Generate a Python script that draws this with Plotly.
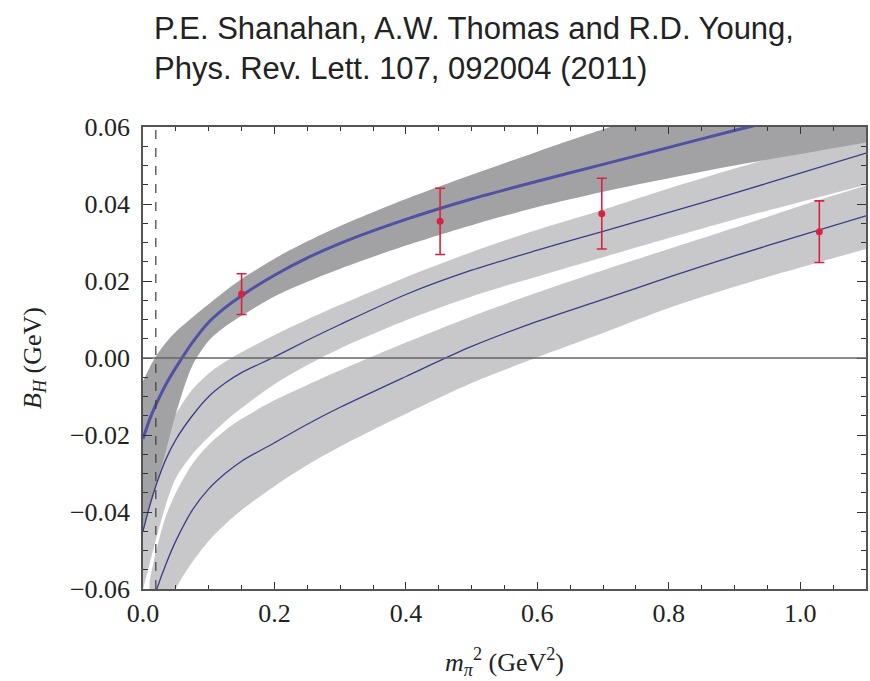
import plotly.graph_objects as go

# ---- data ----
x_grid = [0.0, 0.01, 0.02, 0.035, 0.05, 0.075, 0.10, 0.125, 0.15, 0.20, 0.25, 0.30,
          0.40, 0.50, 0.60, 0.70, 0.80, 0.90, 1.00, 1.10]

# top (dark) band
top_center = [-0.0210, -0.0160, -0.0120, -0.0068, -0.0025, 0.0040, 0.0093, 0.0131, 0.0162, 0.0215,
              0.0260, 0.0298, 0.0360, 0.0413, 0.0459, 0.0503, 0.0547, 0.0591, 0.0633, 0.0675]
top_upper  = [-0.0060, -0.0025, 0.0005, 0.0040, 0.0068, 0.0105, 0.0140, 0.0174, 0.0205, 0.0258,
              0.0303, 0.0343, 0.0413, 0.0476, 0.0536, 0.0594, 0.0648, 0.0700, 0.0750, 0.0800]
top_lower  = [-0.0450, -0.0390, -0.0330, -0.0240, -0.0145, -0.0020, 0.0045, 0.0082, 0.0110, 0.0160,
              0.0198, 0.0232, 0.0292, 0.0345, 0.0392, 0.0432, 0.0467, 0.0500, 0.0530, 0.0560]

# middle band
mid_center = [-0.0450, -0.0385, -0.0330, -0.0262, -0.0212, -0.0150, -0.0100, -0.0065, -0.0038, 0.0003,
              0.0046, 0.0087, 0.0165, 0.0228, 0.0280, 0.0329, 0.0378, 0.0428, 0.0480, 0.0532]
mid_upper  = [-0.0320, -0.0280, -0.0245, -0.0192, -0.0145, -0.0082, -0.0040, -0.0010, 0.0015, 0.0060,
              0.0100, 0.0138, 0.0210, 0.0275, 0.0333, 0.0385, 0.0440, 0.0492, 0.0542, 0.0590]
mid_lower  = [-0.0600, -0.0535, -0.0470, -0.0380, -0.0312, -0.0250, -0.0205, -0.0165, -0.0130, -0.0068,
              -0.0018, 0.0025, 0.0098, 0.0160, 0.0212, 0.0262, 0.0312, 0.0360, 0.0405, 0.0450]

# lower band
low_x      = [0.01, 0.02, 0.035, 0.05, 0.075, 0.10, 0.125, 0.15, 0.20, 0.25, 0.30,
              0.40, 0.50, 0.60, 0.70, 0.80, 0.90, 1.00, 1.10]
low_center = [-0.0660, -0.0605, -0.0535, -0.0475, -0.0395, -0.0340, -0.0300, -0.0268, -0.0220, -0.0172,
              -0.0128, -0.0048, 0.0030, 0.0095, 0.0152, 0.0210, 0.0265, 0.0318, 0.0369]
low_upper  = [-0.0580, -0.0500, -0.0410, -0.0350, -0.0275, -0.0225, -0.0188, -0.0158, -0.0110, -0.0070,
              -0.0032, 0.0040, 0.0108, 0.0170, 0.0228, 0.0283, 0.0338, 0.0395, 0.0448]
low_lower  = [-0.0850, -0.0780, -0.0680, -0.0600, -0.0530, -0.0475, -0.0432, -0.0395, -0.0333, -0.0278,
              -0.0230, -0.0145, -0.0065, 0.0002, 0.0065, 0.0130, 0.0185, 0.0235, 0.0283]

# lattice points
pts_x   = [0.150, 0.452, 0.698, 1.029]
pts_y   = [0.0166, 0.0355, 0.0375, 0.0328]
pts_err = [0.0053, 0.0086, 0.0092, 0.0080]

phys_mpi2 = 0.0195

x_ticks = [0.0, 0.2, 0.4, 0.6, 0.8, 1.0]
y_ticks = [-0.06, -0.04, -0.02, 0.00, 0.02, 0.04, 0.06]

title_lines = ["P.E. Shanahan, A.W. Thomas and R.D. Young,",
               "Phys. Rev. Lett. 107, 092004 (2011)"]
x_title = "<i>m</i><sub><i>π</i></sub><sup>2</sup> (GeV<sup>2</sup>)"
y_title = "<i>B</i><sub><i>H</i></sub> (GeV)"

# ---- figure ----
fig = go.Figure()

LIGHT = "rgb(200,200,202)"
DARK = "rgb(162,162,164)"

def band(x, lo, hi, color):
    fig.add_trace(go.Scatter(x=x, y=lo, mode="lines", line=dict(width=0, shape="spline", smoothing=0.8),
                             hoverinfo="skip", showlegend=False))
    fig.add_trace(go.Scatter(x=x, y=hi, mode="lines", line=dict(width=0, shape="spline", smoothing=0.8),
                             fill="tonexty", fillcolor=color, hoverinfo="skip", showlegend=False))

band(low_x, low_lower, low_upper, LIGHT)
band(x_grid, mid_lower, mid_upper, LIGHT)
band(x_grid, top_lower, top_upper, DARK)

fig.add_trace(go.Scatter(x=low_x, y=low_center, mode="lines",
                         line=dict(color="rgb(60,60,135)", width=1.3, shape="spline", smoothing=0.8),
                         showlegend=False))
fig.add_trace(go.Scatter(x=x_grid, y=mid_center, mode="lines",
                         line=dict(color="rgb(60,60,135)", width=1.3, shape="spline", smoothing=0.8),
                         showlegend=False))
fig.add_trace(go.Scatter(x=x_grid, y=top_center, mode="lines",
                         line=dict(color="rgb(80,80,165)", width=3, shape="spline", smoothing=0.8),
                         showlegend=False))

fig.add_trace(go.Scatter(x=pts_x, y=pts_y, mode="markers",
                         marker=dict(color="rgb(215,35,65)", size=7),
                         error_y=dict(type="data", array=pts_err, color="rgb(215,35,65)",
                                      thickness=1.6, width=5),
                         showlegend=False))

# zero line and physical point
fig.add_hline(y=0, line=dict(color="rgb(100,100,100)", width=1.6))
fig.add_vline(x=phys_mpi2, line=dict(color="rgb(60,60,60)", width=1.2, dash="dash"))

fig.add_annotation(text="<br>".join(title_lines), xref="paper", yref="paper",
                   x=0.013, y=1.256, xanchor="left", yanchor="top", align="left",
                   showarrow=False, font=dict(family="Liberation Sans", size=31, color="#222"))

axis_font = dict(family="Liberation Serif", size=26, color="#222")

fig.add_annotation(text=x_title, xref="paper", yref="paper", x=0.5, y=-0.158,
                   xanchor="center", yanchor="middle", showarrow=False, font=axis_font)

fig.update_xaxes(range=[0, 1.1], tickvals=x_ticks, tickformat=".1f",
                 ticks="inside", ticklen=7, tickwidth=1.2, tickcolor="#333",
                 minor=dict(dtick=0.05, tick0=0, ticks="inside", ticklen=4, tickcolor="#333"),
                 showline=True, linecolor="#555", linewidth=1.5, mirror="allticks",
                 showgrid=False, zeroline=False, tickfont=axis_font,
                 ticklabelstandoff=0)
fig.update_yaxes(range=[-0.06, 0.06], tickvals=y_ticks, tickformat=".2f",
                 ticks="inside", ticklen=9, tickwidth=1.2, tickcolor="#333",
                 minor=dict(dtick=0.005, tick0=0, ticks="inside", ticklen=5, tickcolor="#333"),
                 showline=True, linecolor="#555", linewidth=1.5, mirror="allticks",
                 showgrid=False, zeroline=False, tickfont=axis_font,
                 ticklabelstandoff=6,
                 title=dict(text=y_title, font=axis_font, standoff=21))

fig.update_layout(width=870, height=681, margin=dict(l=143, r=2, t=127, b=92),
                  paper_bgcolor="white", plot_bgcolor="white")

fig.write_html("out.html")
